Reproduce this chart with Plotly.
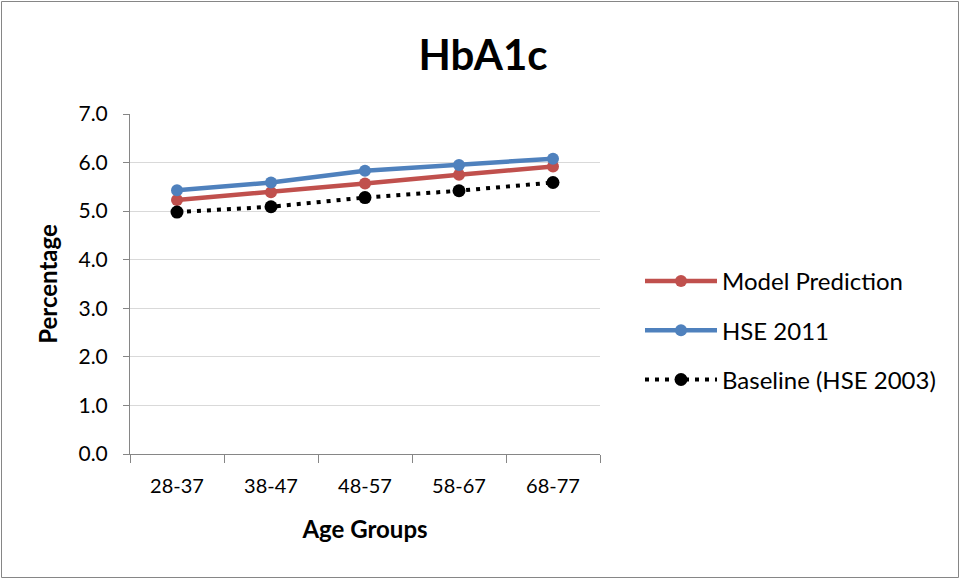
import plotly.graph_objects as go

categories = ["28-37", "38-47", "48-57", "58-67", "68-77"]
model_prediction = [5.23, 5.39, 5.57, 5.75, 5.92]
hse_2011 = [5.43, 5.59, 5.83, 5.95, 6.08]
baseline_2003 = [4.98, 5.09, 5.28, 5.42, 5.59]

FONT = "Lato, 'Open Sans', sans-serif"

fig = go.Figure()
fig.add_trace(go.Scatter(x=categories, y=model_prediction, name="Model Prediction",
                         mode="lines+markers", legendgroup="a",
                         line=dict(color="#C0504D", width=4.5),
                         marker=dict(color="#C0504D", size=12)))
fig.add_trace(go.Scatter(x=categories, y=hse_2011, name="HSE 2011",
                         mode="lines+markers", legendgroup="b",
                         line=dict(color="#4F81BD", width=4.5),
                         marker=dict(color="#4F81BD", size=12)))
fig.add_trace(go.Scatter(x=categories, y=baseline_2003, name="Baseline (HSE 2003)",
                         mode="lines+markers", legendgroup="c",
                         line=dict(color="black", width=4, dash="4px,6px"),
                         marker=dict(color="black", size=13)))

L, R, T, B = 130, 361, 114, 125
W, H = 961, 579
pw, ph = W - L - R, H - T - B

fig.update_layout(
    width=W, height=H,
    margin=dict(l=L, r=R, t=T, b=B),
    paper_bgcolor="white", plot_bgcolor="white",
    font=dict(family=FONT, color="black", size=20),
    title=dict(text="<b>HbA1c</b>", font=dict(size=42, family=FONT),
               x=483 / W, xanchor="center", y=1 - 55 / H, yanchor="middle"),
    showlegend=True,
    legend=dict(x=(640 - L) / pw, y=(454 - 259) / ph, xanchor="left", yanchor="top",
                font=dict(size=24, family=FONT), tracegroupgap=15,
                itemwidth=72, bgcolor="rgba(0,0,0,0)"),
    xaxis=dict(title=dict(text="<b>Age Groups</b>", font=dict(size=24), standoff=25),
               range=[-0.5, 4.5],
               showline=True, linecolor="#868686", linewidth=1,
               ticks="outside", tickson="boundaries", ticklen=8, tickcolor="#868686",
               ticklabelstandoff=14,
               showgrid=False, tickfont=dict(size=20)),
    yaxis=dict(title=dict(text="<b>Percentage</b>", font=dict(size=24), standoff=14),
               range=[0, 7], dtick=1, tickformat=".1f",
               showline=True, linecolor="#868686", linewidth=1,
               ticks="outside", ticklen=6, tickcolor="#868686",
               ticklabelstandoff=11,
               showgrid=True, gridcolor="#D9D9D9", gridwidth=1,
               zeroline=False, tickfont=dict(size=21)),
)

fig.add_shape(type="rect", xref="paper", yref="paper",
              x0=(1.5 - L) / pw, x1=(958.5 - L) / pw,
              y0=(454 - 577.5) / ph, y1=(454 - 1.5) / ph,
              line=dict(color="#868686", width=1), layer="below")

fig.write_html("out.html")
